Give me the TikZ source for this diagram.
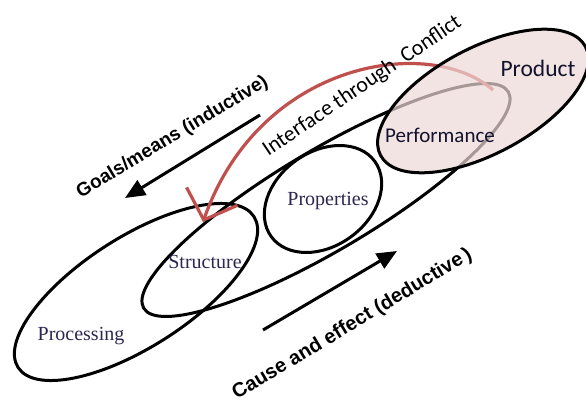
\documentclass[tikz,border=0pt]{standalone}
\usepackage{fontspec}
\setmainfont{Liberation Serif}
\newfontfamily\labelsans{Carlito}
\newfontfamily\arrowsans{Liberation Sans}
\usetikzlibrary{arrows.meta}
\definecolor{linkred}{RGB}{192,80,77}
\definecolor{productpink}{RGB}{238,216,216}
\definecolor{serifink}{RGB}{45,38,80}
\definecolor{sansink}{RGB}{18,18,45}
\begin{document}
\begin{tikzpicture}[x=1pt,y=1pt,
  loop/.style={draw=black, line width=3pt},
  flow/.style={draw=black, line width=3pt, -{Triangle[length=20pt,width=17pt]}},
  stage/.style={font=\fontsize{20}{24}\selectfont, text=serifink, anchor=base, inner sep=0pt},
  outcome/.style={font=\labelsans\fontsize{21}{25}\selectfont, text=sansink, anchor=base, inner sep=0pt},
  caption/.style={font=\arrowsans\bfseries\fontsize{19}{23}\selectfont, anchor=base, inner sep=0pt, rotate=31},
]
\useasboundingbox (0,0) rectangle (586,405);

% processing loop and the long structure-to-performance loop
\draw[loop, rotate around={32.6:(136,113)}] (136,113) ellipse [x radius=140, y radius=55];
\draw[loop, rotate around={30.7:(326,205)}] (326,205) ellipse [x radius=212, y radius=50];
% properties loop
\draw[loop, rotate around={36:(323,206)}] (323,206) ellipse [x radius=64, y radius=47];

% direction arrows
\coordinate (gstart) at (260,290);
\coordinate (gend) at (125,207);
\draw[flow] (gstart) -- (gend);
\coordinate (cstart) at (263,75);
\coordinate (cend) at (397,154);
\draw[flow] (cstart) -- (cend);

% interface arrow from performance back to structure
\coordinate (rstart) at (493,315);
\coordinate (rtip) at (203,183);
\draw[linkred, line width=3.2pt, -{Straight Barb[length=25pt,width=54pt]}]
  (rstart) .. controls (430,370) and (260,345) .. (rtip);

% product loop, translucent over what lies beneath
\fill[productpink, opacity=0.7, rotate around={28:(483,304)}] (483,304) ellipse [x radius=116, y radius=53];
\draw[loop, rotate around={28:(483,304)}] (483,304) ellipse [x radius=116, y radius=53];

% labels
\node[stage] (processing) at (81,65) {Processing};
\node[stage] (structure) at (205,137) {Structure};
\node[stage] (properties) at (328,200) {Properties};
\node[outcome] (performance) at (440,262) {Performance};
\node[outcome, font=\labelsans\fontsize{23.5}{28}\selectfont] (product) at (538,328) {Product};

\node[caption] (goals) at (175,263.5) {Goals/means (inductive)};
\node[caption, font=\arrowsans\bfseries\fontsize{20}{24}\selectfont] (cause) at (355,76) {Cause and effect (deductive\,)};
\node[font=\labelsans\fontsize{22}{26}\selectfont, anchor=base, inner sep=0pt, rotate=34] (interface) at (365.5,314) {Interface through\ \ Conflict};
\end{tikzpicture}
\end{document}
